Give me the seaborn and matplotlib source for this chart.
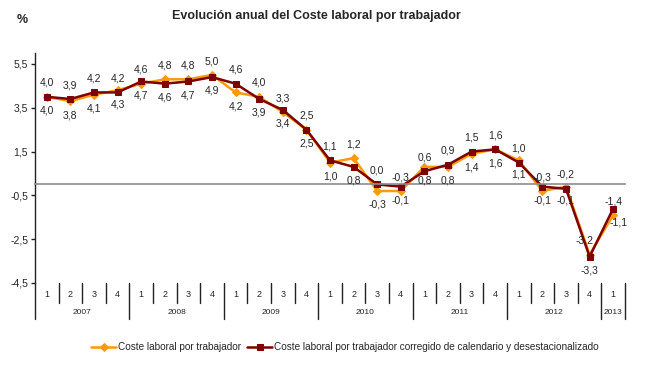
import numpy as np
import pandas as pd
import matplotlib
matplotlib.use("Agg")
import matplotlib.pyplot as plt
import seaborn as sns

# datos (tasa anual, %)
trimestres = ["1", "2", "3", "4"] * 6 + ["1"]
anios = ["2007", "2008", "2009", "2010", "2011", "2012", "2013"]

coste = [4.0, 3.8, 4.1, 4.3, 4.6, 4.8, 4.8, 5.0, 4.2, 4.0, 3.3, 2.5,
         1.0, 1.2, -0.3, -0.3, 0.8, 0.8, 1.4, 1.6, 1.1, -0.3, -0.1, -3.2, -1.4]
corregido = [4.0, 3.9, 4.2, 4.2, 4.7, 4.6, 4.7, 4.9, 4.6, 3.9, 3.4, 2.5,
             1.1, 0.8, 0.0, -0.1, 0.6, 0.9, 1.5, 1.6, 1.0, -0.1, -0.2, -3.3, -1.1]

# etiqueta de la serie sin corregir encima (True) o debajo (False)
coste_arriba = [False, False, False, False, True, True, True, True, False, True,
                True, False, False, True, False, True, False, False, False, False,
                False, True, False, True, True]

nombres = ["Coste laboral por trabajador",
           "Coste laboral por trabajador corregido de calendario y desestacionalizado"]

naranja = "#FA9A0F"
granate = "#7F0000"

sns.set_style("white")
plt.rcParams["font.family"] = ["Liberation Sans", "DejaVu Sans"]

fig = plt.figure(figsize=(6.5, 3.68), dpi=100)
ax = fig.add_axes([35 / 650, 1 - 283 / 368, 590 / 650, 230 / 368])

n = len(coste)
x = np.arange(n) + 0.5
df = pd.DataFrame({"x": x, "coste": coste, "corregido": corregido})

sns.lineplot(data=df, x="x", y="coste", ax=ax, color=naranja, lw=1.8,
             marker="D", markersize=4, markeredgecolor=naranja, label=nombres[0])
sns.lineplot(data=df, x="x", y="corregido", ax=ax, color=granate, lw=1.8,
             marker="s", markersize=5, markeredgecolor=granate, label=nombres[1])

ax.set_xlim(0, n)
ax.set_ylim(-4.5, 6.0)
yt = [5.5, 3.5, 1.5, -0.5, -2.5, -4.5]
ax.set_yticks(yt)
ax.set_yticklabels([f"{v:.1f}".replace(".", ",") for v in yt], fontsize=7.5)
ax.set_xlabel("")
ax.set_ylabel("")

for s in ["top", "right"]:
    ax.spines[s].set_visible(False)
ax.spines["left"].set_color("#222222")
ax.spines["left"].set_linewidth(1)
ax.spines["bottom"].set_position(("data", 0))
ax.spines["bottom"].set_color("#8c8c8c")
ax.spines["bottom"].set_linewidth(1.2)
ax.set_xticks(range(n + 1))
ax.set_xticklabels([])
ax.tick_params(axis="x", direction="out", length=4, color="#8c8c8c", width=1)
ax.tick_params(axis="y", direction="out", length=3, color="#222222", width=1,
               left=True, pad=2)

# etiquetas de datos
off = 10
for i in range(n):
    up = coste_arriba[i]
    dx = -4 if i == n - 2 else 0
    ax.annotate(f"{coste[i]:.1f}".replace(".", ","), (x[i], coste[i]),
                xytext=(dx, off if up else -off), textcoords="offset points",
                ha="center", va="center", fontsize=7.5)
    ax.annotate(f"{corregido[i]:.1f}".replace(".", ","), (x[i], corregido[i]),
                xytext=(4 if i == n - 1 else 0, -off if up else off),
                textcoords="offset points", ha="center", va="center", fontsize=7.5)

# eje de categorias (trimestres / años)
tr = ax.get_xaxis_transform()
for i, q in enumerate(trimestres):
    ax.text(x[i], -0.052, q, transform=tr, ha="center", va="center", fontsize=6.5)
for k, a in enumerate(anios):
    idx = [i for i in range(n) if i // 4 == k]
    ax.text(np.mean(x[idx]), -0.128, a, transform=tr, ha="center", va="center",
            fontsize=6)
for b in range(n + 1):
    largo = b % 4 == 0 or b == n
    ax.plot([b, b], [0, -0.157 if largo else -0.087], transform=tr,
            color="#222222", lw=1, clip_on=False)

h, l = ax.get_legend_handles_labels()
ax.get_legend().remove()
fig.legend(h, l, loc="center", bbox_to_anchor=(345 / 650, 1 - 347 / 368), ncol=2,
           frameon=False, fontsize=7.2, handlelength=2.5, columnspacing=0.6,
           handletextpad=0.2)

fig.text(316 / 650, 1 - 16 / 368, "Evolución anual del Coste laboral por trabajador",
         ha="center", va="center", fontsize=9, fontweight="bold")
fig.text(22 / 650, 1 - 20 / 368, "%", ha="center", va="center", fontsize=9,
         fontweight="bold")

fig.savefig("out.png", dpi=100)
